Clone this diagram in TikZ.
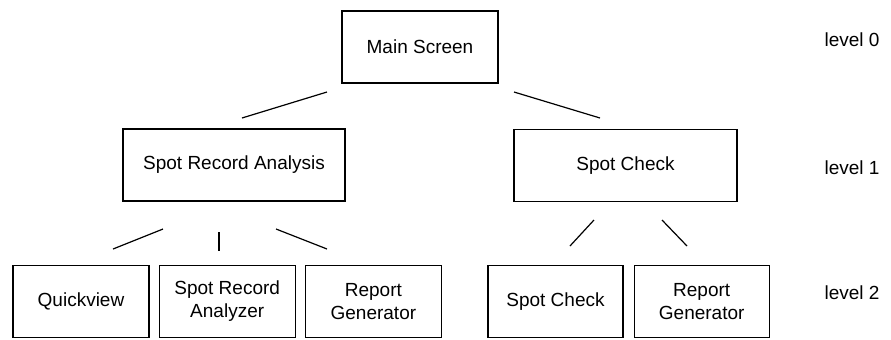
\documentclass[tikz,border=0pt]{standalone}
\usepackage{fontspec}
\setmainfont{Liberation Sans}
\usepackage{tikz}
\usetikzlibrary{positioning}
\tikzset{screen node/.style={rectangle,draw,line width=0.6pt,align=center,inner sep=0pt,minimum height=36pt},
         level label/.style={anchor=west,inner sep=0pt},}

\begin{document}
\begin{tikzpicture}[x=0.5pt, y=-0.5pt, font=\fontsize{9.5}{11.5}\selectfont, line width=0.6pt]
	\useasboundingbox (0,0) rectangle (891,339);

	% level 0
	\node[screen node, minimum width=78pt] (main) at (420,47) {Main Screen};
	% level 1
	\node[screen node, minimum width=111pt] (sra) at (234,165) {Spot Record Analysis};
	\node[screen node, minimum width=111.5pt] (sc) at (625.5,165.5) {Spot Check};
	% level 2
	\node[screen node, minimum width=68pt] (qv) at (81,301.5) {Quickview};
	\node[screen node, minimum width=68pt] (sran) [right = 4.5pt of qv] {Spot Record\\Analyzer};
	\node[screen node, minimum width=68pt] (rg) [right = 4.5pt of sran] {Report\\Generator};
	\node[screen node, minimum width=67.5pt] (scc) at (555.5,301.5) {Spot Check};
	\node[screen node, minimum width=67.5pt] (scrg) [right = 5pt of scc] {Report\\Generator};

	\node[level label] (lv0) at (824,40) {level 0};
	\node[level label] (lv1) at (824,168) {level 1};
	\node[level label] (lv2) at (824,293) {level 2};

	% loose links between the levels
	\coordinate (m1) at (327,92);  \coordinate (m2) at (242,118);
	\coordinate (m3) at (514,92);  \coordinate (m4) at (600,118);
	\coordinate (a1) at (163,229); \coordinate (a2) at (113,249);
	\coordinate (a3) at (219,232); \coordinate (a4) at (219,251);
	\coordinate (a5) at (276,229); \coordinate (a6) at (327,249);
	\coordinate (c1) at (594,220); \coordinate (c2) at (570,246);
	\coordinate (c3) at (662,220); \coordinate (c4) at (687,246);

	\path[draw]
	(m1) edge (m2)
	(m3) edge (m4)
	(a1) edge (a2)
	(a3) edge (a4)
	(a5) edge (a6)
	(c1) edge (c2)
	(c3) edge (c4);
\end{tikzpicture}
\end{document}
